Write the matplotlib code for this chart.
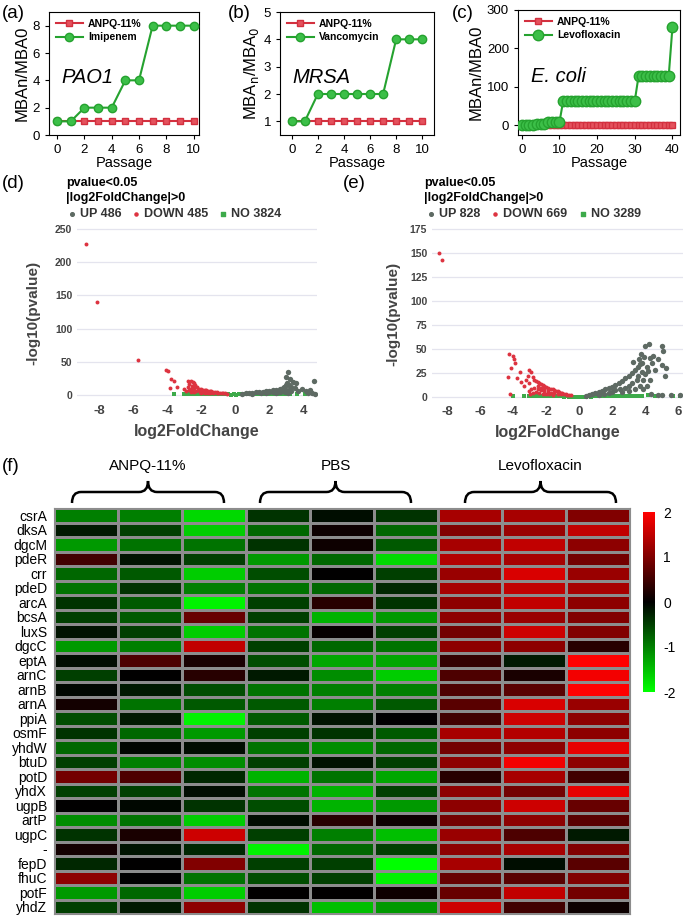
"""Drug resistance passages, volcano plots and gene heatmap."""
import matplotlib
matplotlib.use('Agg')
import matplotlib.pyplot as plt
import numpy as np
from matplotlib.colors import LinearSegmentedColormap
from matplotlib.path import Path
from matplotlib.patches import PathPatch

plt.rcParams['font.family'] = ['Liberation Sans', 'DejaVu Sans']
plt.rcParams['axes.unicode_minus'] = False

W, H = 683, 922
fig = plt.figure(figsize=(6.83, 9.22), dpi=100)


def box(x0, y0, x1, y1):
    # pixel box (top-left origin) -> figure fraction rect
    return [x0 / W, 1 - y1 / H, (x1 - x0) / W, (y1 - y0) / H]


# ═══ data: passages ═══
pass_a = list(range(11))
anpq_a = [1, 1, 1, 1, 1, 1, 1, 1, 1, 1, 1]
imipenem = [1, 1, 2, 2, 2, 4, 4, 8, 8, 8, 8]

pass_b = list(range(11))
anpq_b = [1, 1, 1, 1, 1, 1, 1, 1, 1, 1, 1]
vancomycin = [1, 1, 2, 2, 2, 2, 2, 2, 4, 4, 4]

pass_c = list(range(41))
anpq_c = [1] * 41
levofloxacin = [1, 1, 2, 2, 4, 4, 4, 8, 8, 8, 8,
                64, 64, 64, 64, 64, 64, 64, 64, 64, 64,
                64, 64, 64, 64, 64, 64, 64, 64, 64, 64,
                128, 128, 128, 128, 128, 128, 128, 128, 128, 256]

# ═══ data: volcano (d) ═══
d_down_x = [-8.8, -8.1, -5.7, -4.05, -3.95, -3.75, -3.6, -3.45, -3.85,
            -2.75, -2.6, -2.5, -2.45, -2.7, -2.35, -2.55, -2.25, -2.8, -2.6, -2.4,
            -2.15, -2.0, -1.9, -1.8, -1.7, -1.6, -1.5, -1.4, -1.3, -1.2, -1.1,
            -1.0, -0.9, -0.8, -0.7, -0.6, -0.5, -2.5, -2.3, -2.1, -1.9, -1.7,
            -1.5, -1.3, -1.1, -2.7, -2.4, -2.0, -1.8, -1.6, -2.2, -2.6, -2.9, -3.0]
d_down_y = [228, 140, 53, 38, 36, 24, 20, 12, 10,
            20, 21, 19, 17, 16, 14, 13, 12, 11, 9, 10,
            9, 8, 7, 7.5, 6.5, 6, 5.5, 5, 4.5, 4, 3.5,
            3.2, 2.8, 2.5, 2.2, 2, 1.8, 6, 5, 4, 4, 3.5,
            3, 2.5, 2.2, 7, 3.5, 3, 2.5, 2.2, 6.5, 4.5, 5, 8]
d_up_x = [3.1, 3.0, 3.2, 3.4, 3.55, 4.6, 3.05, 2.95, 3.15, 3.3, 2.85, 3.5,
          4.15, 4.4, 4.5, 4.7, 4.25, 3.7, 3.9,
          0.4, 0.6, 0.8, 1.0, 1.2, 1.4, 1.6, 1.8, 2.0, 2.2, 2.4, 2.6, 2.8,
          1.5, 2.0, 2.5, 3.0, 2.2, 2.7, 3.2, 1.0, 1.8, 2.9, 3.1, 2.4, 2.6, 3.3]
d_up_y = [35, 27, 23, 19, 17, 20, 18, 15, 14, 12, 12, 10,
          6, 7, 2.5, 1.5, 2, 5, 8,
          1.5, 2, 2.5, 3, 3.5, 4, 4.5, 5.5, 6, 7, 7.5, 9, 10,
          2.5, 3.5, 5, 7, 4, 6, 8, 1.8, 3, 4, 3, 3, 4, 5]
d_no_x = [-3.6, -3.0, -2.8, -2.65, -2.5, -2.35, -2.2, -2.05, -1.9, -1.75, -1.6,
          -1.45, -1.3, -1.15, -1.0, -0.85, -0.7, -0.55, -0.4, -0.25, -0.1,
          0.05, 0.2, 0.35, 0.5, 0.65, 0.8, 0.95, 1.1, 1.25, 1.4, 1.55, 1.7,
          1.85, 2.0, 2.15, 2.3, 2.45, 2.6, 2.75, 2.9, 3.05, 3.2, 3.6, 4.1]
d_no_y = [1.3, 1.2, 0.8, 0.9, 0.7, 0.8, 0.9, 0.6, 0.7, 0.8, 0.6,
          0.5, 0.7, 0.6, 0.7, 0.5, 0.4, 0.6, 0.4, 0.3, 0.4,
          0.3, 0.4, 0.5, 0.6, 0.5, 0.6, 0.8, 0.7, 0.6, 0.8, 0.9, 0.7,
          0.8, 0.9, 1.0, 0.8, 0.9, 1.0, 1.1, 0.9, 1.0, 1.2, 1.4, 1.0]

# ═══ data: volcano (e) ═══
e_down_x = [-8.5, -8.3, -4.25, -4.0, -3.95, -3.85, -4.1, -4.3, -3.75, -3.6,
            -3.5, -4.15, -3.3, -3.2, -3.0, -2.9, -3.1, -2.8, -3.05, -2.7,
            -2.6, -2.5, -2.4, -2.3, -2.2, -2.1, -2.0, -1.9, -1.8, -1.7, -1.6,
            -1.5, -1.4, -1.3, -1.2, -1.1, -1.0, -0.9, -0.8, -0.7, -0.6, -0.5,
            -2.9, -2.7, -2.5, -2.3, -2.1, -1.9, -1.7, -1.5, -1.3, -1.1, -2.6,
            -2.4, -2.2, -2.0, -1.8, -1.6, -2.8, -3.0, -2.95, -2.5, -2.3, -2.1, -1.9]
e_down_y = [150, 143, 45, 43, 40, 36, 30, 21, 20, 26,
            16, 3, 12, 18, 28, 26, 22, 21, 15, 18,
            17, 16, 15, 14, 13, 12, 11, 10, 9, 8.5, 8,
            7, 6.5, 6, 5, 4.5, 4, 3.5, 3, 2.6, 2.2, 2,
            8, 10, 8, 7, 6, 5, 4.5, 4, 3.5, 3, 5,
            4, 3.5, 3, 2.8, 2.5, 4, 6, 3.5, 12, 10, 9, 7]
e_up_x = [0.4, 0.6, 0.8, 1.0, 1.2, 1.4, 1.6, 1.8, 2.0, 2.2, 2.4, 2.6, 2.8,
          3.0, 3.2, 3.4, 3.6, 3.7, 3.8, 3.3,
          1.5, 2.0, 2.5, 3.0, 3.5, 2.2, 2.8, 3.2, 3.6, 3.8, 1.2, 1.8, 2.6,
          3.0, 3.4, 3.7, 3.9, 4.0, 3.9,
          4.0, 4.25, 5.0, 5.1, 3.95, 4.3, 4.5, 4.8, 5.3, 5.0, 3.65, 3.75,
          4.6, 4.1, 4.2, 5.2, 4.4, 4.35, 4.8, 5.05, 5.6, 6.1, 4.1, 4.3]
e_up_y = [1.5, 2, 3, 4, 5, 6.5, 8, 9.5, 11, 13, 15, 17, 19.5,
          22, 25, 28, 31, 34, 36, 37,
          3, 5, 8, 12, 18, 7, 10, 15, 22, 26, 2.5, 4, 5,
          6, 9, 12, 18, 24, 8,
          53, 55, 53, 48, 42, 41, 43, 40, 30, 33, 40, 45,
          28, 31, 27, 22, 36, 3.5, 2.5, 2.5, 2.5, 2.0, 12, 18]
e_no_x = [-4.0, -3.3, -3.0, -2.85, -2.7, -2.55, -2.4, -2.25, -2.1, -1.95,
          -1.8, -1.65, -1.5, -1.35, -1.2, -1.05, -0.9, -0.75, -0.6, -0.45,
          -0.3, -0.15, 0.0, 0.15, 0.3, 0.45, 0.6, 0.75, 0.9, 1.05, 1.2, 1.35,
          1.5, 1.65, 1.8, 1.95, 2.1, 2.25, 2.4, 2.55, 2.7, 2.85, 3.0, 3.15,
          3.3, 3.45, 3.6, 3.8, 4.2, 4.6, 5.7, 6.1]
e_no_y = [1.5, 1.6, 1.4, 1.2, 1.3, 1.1, 1.2, 1.0, 1.1, 0.9,
          1.0, 0.8, 0.9, 0.8, 0.7, 0.8, 0.6, 0.7, 0.6, 0.5,
          0.6, 0.5, 0.4, 0.5, 0.6, 0.5, 0.7, 0.6, 0.8, 0.7, 0.9, 0.8,
          1.0, 0.9, 1.1, 1.0, 1.2, 1.1, 1.3, 1.2, 1.4, 1.3, 1.5, 1.4,
          1.6, 1.5, 1.7, 1.6, 1.8, 1.5, 1.5, 1.5]

# ═══ data: heatmap ═══
genes = ['csrA', 'dksA', 'dgcM', 'pdeR', 'crr', 'pdeD', 'arcA', 'bcsA', 'luxS',
         'dgcC', 'eptA', 'arnC', 'arnB', 'arnA', 'ppiA', 'osmF', 'yhdW', 'btuD',
         'potD', 'yhdX', 'ugpB', 'artP', 'ugpC', '-', 'fepD', 'fhuC', 'potF', 'yhdZ']
groups = ['ANPQ-11%', 'PBS', 'Levofloxacin']
anpq_hm = [[-1.0, -1.0, -1.7], [-0.2, -0.5, -1.6], [-1.2, -0.9, -0.9], [0.5, -0.15, -0.5],
           [-0.8, -0.7, -1.6], [-0.9, -0.4, -1.0], [-0.4, -0.7, -1.9], [-0.5, -0.7, 0.8],
           [-0.15, -0.5, -1.6], [-1.2, -1.0, 1.5], [-0.1, 0.6, 0.2], [-0.5, 0.0, 0.3],
           [-0.05, -0.2, -0.6], [0.15, -0.9, -0.7], [-0.6, -0.2, -1.9], [-0.4, -0.8, -1.2],
           [-0.8, -0.05, -0.1], [-0.5, -1.0, -1.1], [0.9, 0.6, -0.3], [-0.5, -0.5, -0.1],
           [0.0, -0.05, -0.4], [-1.1, -0.9, -1.6], [-0.4, 0.2, 1.6], [0.15, -0.15, -0.3],
           [-0.3, 0.0, 1.0], [1.1, 0.0, -0.9], [-1.2, -0.8, -1.6], [-0.5, -0.2, 1.1]]
pbs_hm = [[-0.4, -0.1, -0.4], [-0.8, 0.1, -0.8], [-0.4, 0.1, -0.7], [-1.2, -0.8, -1.7],
          [-0.6, 0.0, -0.5], [-0.9, -0.8, -0.3], [-0.5, 0.3, -0.4], [-0.5, -1.4, -1.2],
          [-0.9, 0.05, -0.5], [-0.5, -0.8, -0.9], [-0.6, -1.3, -1.3], [-0.2, -1.1, -1.6],
          [-0.9, -1.0, -1.0], [-0.7, -1.0, -0.7], [-0.7, -0.15, 0.0], [-0.5, -0.4, -0.7],
          [-0.9, -1.1, -0.8], [-0.5, -0.15, -0.5], [-1.4, -0.9, -1.3], [-0.9, -1.4, -0.5],
          [-0.6, -1.4, -1.2], [-0.1, 0.3, 0.1], [-0.5, -1.0, -1.5], [-1.9, -0.8, -0.5],
          [-0.5, -0.5, -2.0], [-0.6, -0.5, -1.9], [0.0, 0.0, 0.1], [-0.4, -1.5, -1.2]]
levo_hm = [[1.3, 1.3, 1.0], [1.0, 1.2, 1.5], [1.3, 1.5, 1.1], [1.4, 1.3, 0.9],
           [1.2, 1.7, 1.2], [1.3, 1.5, 1.3], [1.1, 1.5, 1.1], [1.1, 1.2, 1.0],
           [0.9, 1.6, 1.0], [1.1, 1.1, 0.3], [0.4, -0.2, 2.0], [0.6, 0.2, 1.9],
           [0.6, 0.7, 2.0], [0.7, 1.7, 1.2], [0.5, 1.6, 1.1], [1.3, 1.4, 1.1],
           [0.9, 1.1, 1.8], [1.1, 1.9, 1.1], [0.3, 1.3, 0.5], [1.1, 0.9, 1.8],
           [1.1, 1.6, 0.8], [0.9, 1.1, 0.7], [1.2, 0.6, -0.2], [1.1, 1.3, 1.0],
           [1.3, -0.1, 0.7], [0.8, 0.7, 1.0], [0.8, 1.5, 0.9], [1.6, 0.5, 0.1]]

RED_L, RED_M = '#d3303f', '#e4525d'
GRN_L, GRN_M = '#25a22f', '#3cbf48'


# ═══ passage panels (a)-(c) ═══
def passage_panel(rect, x, anpq, drug, drug_name, strain, xlim, ylim, xticks, yticks,
                  ylabel, ms_sq=4.5, ms_ci=6.0):
    ax = fig.add_axes(rect)
    ax.plot(x, anpq, '-s', color=RED_L, mfc=RED_M, mec=RED_L, ms=ms_sq, lw=1.5,
            label='ANPQ-11%', zorder=3)
    ax.plot(x, drug, '-o', color=GRN_L, mfc=GRN_M, mec=GRN_L, ms=ms_ci, lw=1.5,
            label=drug_name, zorder=4)
    ax.set_xlim(*xlim)
    ax.set_ylim(*ylim)
    ax.set_xticks(xticks)
    ax.set_yticks(yticks)
    ax.tick_params(labelsize=9.5, length=3, width=0.8)
    ax.set_xlabel('Passage', fontsize=10.5, labelpad=0)
    ax.set_ylabel(ylabel, fontsize=12, labelpad=2)
    ax.legend(loc='upper left', frameon=False, handlelength=2.6,
              prop=dict(weight='bold', size=7.5), borderaxespad=0.25,
              labelspacing=0.35, handletextpad=0.5)
    ax.text(0.08, 0.47, strain, transform=ax.transAxes, fontsize=14.5,
            style='italic', va='center')
    return ax


passage_panel(box(49, 12, 199, 135), pass_a, anpq_a, imipenem, 'Imipenem', 'PAO1',
              (-0.6, 10.4), (0, 9), [0, 2, 4, 6, 8, 10], [0, 2, 4, 6, 8], 'MBAn/MBA0')
passage_panel(box(280, 12, 434, 135), pass_b, anpq_b, vancomycin, 'Vancomycin', 'MRSA',
              (-0.9, 10.9), (0.5, 5), [0, 2, 4, 6, 8, 10], [1, 2, 3, 4, 5],
              'MBA$_{\\rm n}$/MBA$_{\\rm 0}$')
passage_panel(box(518, 10, 680, 135), pass_c, anpq_c, levofloxacin, 'Levofloxacin',
              'E. coli', (-1, 42), (-25, 300), [0, 10, 20, 30, 40], [0, 100, 200, 300],
              'MBAn/MBA0', ms_sq=4.5, ms_ci=7.5)


# ═══ volcano panels (d), (e) ═══
def volcano(rect, dx, dy, ux, uy, nx, ny, xlim, ylim, xticks, yticks):
    ax = fig.add_axes(rect)
    ax.scatter(nx, ny, s=10, marker='s', color='#3daa4a', linewidths=0, zorder=2)
    ax.scatter(dx, dy, s=8, color='#dd3340', linewidths=0, zorder=3)
    ax.scatter(ux, uy, s=15, color='#5e6a63', linewidths=0, zorder=3)
    ax.set_xlim(*xlim)
    ax.set_ylim(*ylim)
    ax.set_xticks(xticks)
    ax.set_yticks(yticks)
    for s in ax.spines.values():
        s.set_visible(False)
    ax.grid(axis='y', color='#e4e4ee', lw=0.9)
    ax.set_axisbelow(True)
    ax.tick_params(length=0, colors='#444444')
    for t in ax.get_xticklabels():
        t.set_fontsize(9.5)
        t.set_fontweight('bold')
    for t in ax.get_yticklabels():
        t.set_fontsize(7.5)
        t.set_fontweight('bold')
    ax.set_xlabel('log2FoldChange', fontsize=11.5, fontweight='bold', color='#444444',
                  labelpad=5)
    ax.set_ylabel('-log10(pvalue)', fontsize=11, fontweight='bold', color='#444444')
    return ax


axd = volcano(box(77, 226, 317, 400), d_down_x, d_down_y, d_up_x, d_up_y, d_no_x, d_no_y,
              (-9.3, 4.8), (-8, 255), [-8, -6, -4, -2, 0, 2, 4], [0, 50, 100, 150, 200, 250])
axd.yaxis.set_label_coords(-(77 - 40) / 240, 0.5)
axe = volcano(box(432, 226, 683, 401), e_down_x, e_down_y, e_up_x, e_up_y, e_no_x, e_no_y,
              (-8.9, 6.3), (-4, 178), [-8, -6, -4, -2, 0, 2, 4, 6], [0, 25, 50, 75, 100, 125, 150, 175])
axe.yaxis.set_label_coords(-(432 - 400) / 251, 0.5)

# ═══ heatmap (f) ═══
hm = np.hstack([np.array(anpq_hm), np.array(pbs_hm), np.array(levo_hm)])
cmap = LinearSegmentedColormap.from_list('gkr', ['#00ff00', '#000000', '#ff0000'])
axh = fig.add_axes(box(54, 508, 630, 914))
mesh = axh.pcolormesh(hm, cmap=cmap, vmin=-2, vmax=2, edgecolors='#8c8c8c', linewidth=1.0)
axh.set_xlim(0, hm.shape[1])
axh.set_ylim(hm.shape[0], 0)
axh.set_xticks([])
axh.set_yticks(np.arange(len(genes)) + 0.5)
axh.set_yticklabels(genes, fontsize=10)
axh.tick_params(length=0, pad=5)
for s in axh.spines.values():
    s.set_color('#8c8c8c')

cax = fig.add_axes(box(643, 512, 655, 692))
cb = fig.colorbar(mesh, cax=cax, ticks=[-2, -1, 0, 1, 2])
cb.outline.set_visible(False)
cax.tick_params(length=0, labelsize=10, pad=6)

# ═══ overlay: panel letters, legends, braces ═══
ov = fig.add_axes([0, 0, 1, 1], facecolor='none')
ov.set_xlim(0, W)
ov.set_ylim(H, 0)
ov.axis('off')

for lab, x, y in [('(a)', 2, 14), ('(b)', 228, 14), ('(c)', 452, 14),
                  ('(d)', 2, 183), ('(e)', 343, 183), ('(f)', 2, 466)]:
    ov.text(x, y, lab, fontsize=13.5, va='center', ha='left')

for x0, ups in [(66, ('UP 486', 'DOWN 485', 'NO 3824')),
                (424, ('UP 828', 'DOWN 669', 'NO 3289'))]:
    ov.text(x0, 183, 'pvalue<0.05', fontsize=9, fontweight='bold', va='center')
    ov.text(x0, 198, '|log2FoldChange|>0', fontsize=9, fontweight='bold', va='center')
    mx = [x0 + 6, x0 + 70, x0 + 157] if x0 < 300 else [x0 + 7, x0 + 71, x0 + 159]
    ov.scatter([mx[0]], [214], s=7, color='#5e6a63')
    ov.scatter([mx[1]], [214], s=5, color='#dd3340')
    ov.scatter([mx[2]], [214], s=8, marker='s', color='#3daa4a')
    for m, t in zip(mx, ups):
        ov.text(m + 8, 214, t, fontsize=9, fontweight='bold', va='center', color='#333333')


def brace(xl, xr, xc):
    verts = [(xl, 503), (xl, 492), (xl + 9, 492), (xc - 9, 492), (xc, 492), (xc, 481),
             (xc, 492), (xc + 9, 492), (xr - 9, 492), (xr, 492), (xr, 503)]
    codes = [Path.MOVETO, Path.CURVE3, Path.CURVE3, Path.LINETO, Path.CURVE3, Path.CURVE3,
             Path.CURVE3, Path.CURVE3, Path.LINETO, Path.CURVE3, Path.CURVE3]
    ov.add_patch(PathPatch(Path(verts, codes), facecolor='none', edgecolor='black', lw=1.8))


for g, (xl, xr) in zip(groups, [(72, 224), (260, 411), (465, 616)]):
    xc = (xl + xr) / 2
    brace(xl, xr, xc)
    ov.text(xc, 466, g, fontsize=11, ha='center', va='center')

plt.savefig('out.png', dpi=100)
